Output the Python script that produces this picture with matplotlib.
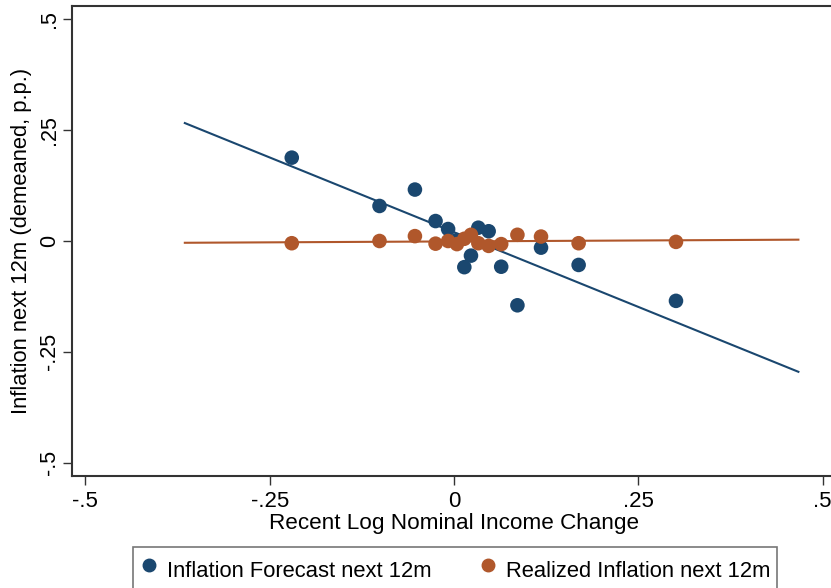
import numpy as np
import matplotlib
matplotlib.use("Agg")
import matplotlib.pyplot as plt
from matplotlib.lines import Line2D

plt.rcParams['font.family'] = ['Liberation Sans', 'DejaVu Sans']

# Binned x values (Recent Log Nominal Income Change)
x_forecast = [-0.220, -0.101, -0.053, -0.025, -0.008, 0.004, 0.014, 0.023, 0.033,
              0.047, 0.064, 0.086, 0.118, 0.169, 0.301]
y_forecast = [0.188, 0.079, 0.116, 0.045, 0.027, 0.002, -0.059, -0.033, 0.030,
              0.022, -0.058, -0.145, -0.015, -0.054, -0.135]

x_realized = [-0.220, -0.101, -0.053, -0.025, -0.008, 0.004, 0.014, 0.023, 0.033,
              0.047, 0.064, 0.086, 0.118, 0.169, 0.301]
y_realized = [-0.005, 0.000, 0.011, -0.006, 0.000, -0.007, 0.005, 0.014, -0.005,
              -0.011, -0.007, 0.014, 0.010, -0.005, -0.002]

# Fitted lines: x range and endpoint values
fit_x = [-0.365, 0.467]
fit_forecast = [0.266, -0.295]
fit_realized = [-0.004, 0.003]

xticks = [-0.5, -0.25, 0, 0.25, 0.5]
xticklabels = ['-.5', '-.25', '0', '.25', '.5']
yticks = [-0.5, -0.25, 0, 0.25, 0.5]
yticklabels = ['-.5', '-.25', '0', '.25', '.5']

blue = '#1a476f'
orange = '#b0572b'

W, H = 831, 588
fig = plt.figure(figsize=(W / 100, H / 100), dpi=100)
left_px, right_px, top_px, bottom_px = 72, 836, 6, 476
ax = fig.add_axes([left_px / W, 1 - bottom_px / H,
                   (right_px - left_px) / W, (bottom_px - top_px) / H])

ax.plot(fit_x, fit_forecast, color=blue, lw=1.5, zorder=2)
ax.plot(fit_x, fit_realized, color=orange, lw=1.5, zorder=2)
ax.scatter(x_forecast, y_forecast, s=110, color=blue, edgecolors='none', zorder=3)
ax.scatter(x_realized, y_realized, s=110, color=orange, edgecolors='none', zorder=4)

ax.set_xlim(-0.518, 0.518)
ax.set_ylim(-0.53, 0.53)
ax.set_xticks(xticks)
ax.set_xticklabels(xticklabels, fontsize=16)
ax.set_yticks(yticks)
ax.set_yticklabels(yticklabels, fontsize=15.5, rotation=90, va='center')
ax.tick_params(axis='both', direction='out', length=6.5, width=1.0, color='#333333')
ax.tick_params(axis='x', pad=4)
ax.tick_params(axis='y', pad=2)

for sp in ax.spines.values():
    sp.set_linewidth(1.5)
    sp.set_color('#333333')

ax.set_xlabel('Recent Log Nominal Income Change', fontsize=16.2, labelpad=1)
ax.set_ylabel('Inflation next 12m (demeaned, p.p.)', fontsize=15.8, labelpad=5)

handles = [Line2D([], [], marker='o', ls='none', color=blue, markersize=9),
           Line2D([], [], marker='o', ls='none', color=orange, markersize=9)]
top_leg = 1 - 547 / H
leg = fig.legend(handles, ['Inflation Forecast next 12m', 'Realized Inflation next 12m'],
                 loc='upper left', bbox_to_anchor=(133 / W, top_leg - 0.2, (777 - 133) / W, 0.2),
                 mode='expand', ncol=2, fontsize=15.8, frameon=True, fancybox=False,
                 handletextpad=0.35, handlelength=0.9, handleheight=1.9,
                 borderpad=0.3, borderaxespad=0)
leg.get_frame().set_edgecolor('#555555')
leg.get_frame().set_linewidth(1.2)

fig.savefig('out.png', dpi=100)
